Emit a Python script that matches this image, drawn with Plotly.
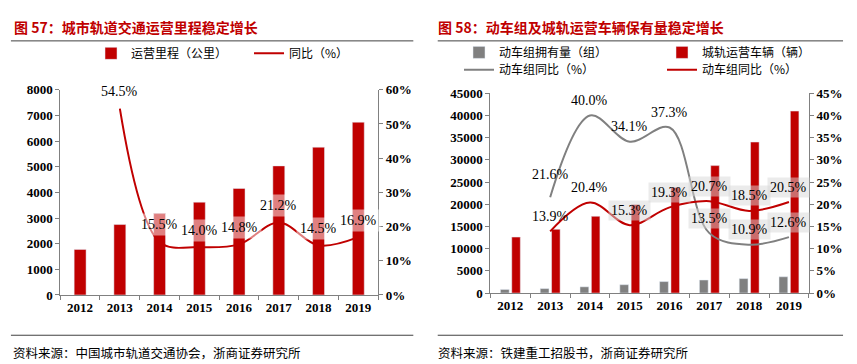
import plotly.graph_objects as go

# ---------------- data ----------------
years = ["2012", "2013", "2014", "2015", "2016", "2017", "2018", "2019"]

# chart 57
mileage_km = [1777, 2746, 3173, 3618, 4152, 5033, 5761, 6736]
mileage_yoy_years = ["2013", "2014", "2015", "2016", "2017", "2018", "2019"]
mileage_yoy = [54.5, 15.5, 14.0, 14.8, 21.2, 14.5, 16.9]

# chart 58
emu_sets = [825, 1003, 1404, 1883, 2586, 2935, 3256, 3665]
metro_cars = [12611, 14364, 17294, 19940, 23788, 28712, 34023, 40998]
yoy_years = ["2013", "2014", "2015", "2016", "2017", "2018", "2019"]
emu_yoy = [21.6, 40.0, 34.1, 37.3, 13.5, 10.9, 12.6]
metro_yoy = [13.9, 20.4, 15.3, 19.3, 20.7, 18.5, 20.5]

title57 = "图 57：城市轨道交通运营里程稳定增长"
title58 = "图 58：动车组及城轨运营车辆保有量稳定增长"
source57 = "资料来源：中国城市轨道交通协会，浙商证券研究所"
source58 = "资料来源：铁建重工招股书，浙商证券研究所"

# ---------------- style ----------------
RED = "#C00000"
GRAY = "#808080"
AXC = "#808080"
W, H = 857, 364
CJK = "Noto Sans CJK SC"
NUM = "Liberation Serif"


def px_x(v):
    return v / W


def px_y(v):
    return 1 - v / H


def cat(yr):
    return years.index(yr)


fig = go.Figure()

# chart 57 traces
fig.add_trace(go.Bar(x=years, y=mileage_km, name="运营里程（公里）", marker_color=RED,
                     width=0.3, xaxis="x", yaxis="y", legend="legend"))
fig.add_trace(go.Scatter(x=mileage_yoy_years, y=mileage_yoy, name="同比（%）", mode="lines",
                         line=dict(color=RED, width=2, shape="spline", smoothing=1.0),
                         xaxis="x", yaxis="y2", legend="legend"))

# chart 58 traces
fig.add_trace(go.Bar(x=years, y=emu_sets, name="动车组拥有量（组）", marker_color=GRAY,
                     offset=-0.25, width=0.22, xaxis="x2", yaxis="y3", legend="legend2"))
fig.add_trace(go.Bar(x=years, y=metro_cars, name="城轨运营车辆（辆）", marker_color=RED,
                     offset=0.035, width=0.215, xaxis="x2", yaxis="y3", legend="legend2"))
fig.add_trace(go.Scatter(x=yoy_years, y=emu_yoy, name="动车组同比（%）", mode="lines",
                         line=dict(color=GRAY, width=2, shape="spline", smoothing=1.0),
                         xaxis="x2", yaxis="y4", legend="legend3"))
fig.add_trace(go.Scatter(x=yoy_years, y=metro_yoy, name="动车组同比（%）", mode="lines",
                         line=dict(color=RED, width=2, shape="spline", smoothing=1.0),
                         xaxis="x2", yaxis="y4", legend="legend3"))

tickf = dict(family=NUM, size=13, color="#000000", weight="bold")
lblf = dict(family=NUM, size=14, color="#000000")

xcommon = dict(type="category", range=[-0.5, 7.5], showline=True, linecolor=AXC, linewidth=1,
               ticks="outside", tickson="boundaries", ticklen=4, tickcolor=AXC, tickfont=tickf,
               showgrid=False, zeroline=False, tickangle=0)
ycommon = dict(showline=True, linecolor=AXC, linewidth=1, ticks="outside", ticklen=4,
               tickcolor=AXC, tickfont=tickf, showgrid=False, zeroline=False, tickformat="d")

annotations = []
# data labels chart 57
for yr, v in zip(mileage_yoy_years, mileage_yoy):
    annotations.append(dict(x=cat(yr), y=v, xref="x", yref="y2", text=f"{v:.1f}%",
                            showarrow=False, yshift=17, font=lblf,
                            bgcolor="rgba(255,255,255,0.5)", borderpad=3))
# data labels chart 58
emu_box = [False, False, False, False, True, True, True]
metro_box = [False, False, True, True, True, True, True]
emu_shift = [23, 15, 15, 15, 15, 15, 15]
for yr, v, b, s in zip(yoy_years, emu_yoy, emu_box, emu_shift):
    annotations.append(dict(x=cat(yr), y=v, xref="x2", yref="y4", text=f"{v:.1f}%",
                            showarrow=False, yshift=s, font=lblf,
                            bgcolor="rgba(215,215,215,0.5)" if b else "rgba(0,0,0,0)",
                            borderpad=2))
for yr, v, b in zip(yoy_years, metro_yoy, metro_box):
    annotations.append(dict(x=cat(yr), y=v, xref="x2", yref="y4", text=f"{v:.1f}%",
                            showarrow=False, yshift=15, font=lblf,
                            bgcolor="rgba(215,215,215,0.5)" if b else "rgba(0,0,0,0)",
                            borderpad=2))

# titles and sources
titlef = dict(family=CJK, size=14, color=RED, weight="bold")
srcf = dict(family=CJK, size=12.5, color="#000000")
annotations += [
    dict(x=px_x(4), y=px_y(13), xref="paper", yref="paper", text=title57, showarrow=False,
         xanchor="left", yanchor="middle", font=titlef),
    dict(x=px_x(438), y=px_y(13), xref="paper", yref="paper", text=title58, showarrow=False,
         xanchor="left", yanchor="middle", font=titlef),
    dict(x=px_x(3), y=px_y(352), xref="paper", yref="paper", text=source57, showarrow=False,
         xanchor="left", yanchor="middle", font=srcf),
    dict(x=px_x(438), y=px_y(352), xref="paper", yref="paper", text=source58, showarrow=False,
         xanchor="left", yanchor="middle", font=srcf),
]

shapes = []
for (x0, x1) in [(3, 415), (440, 855)]:
    for yy in (27, 334):
        shapes.append(dict(type="line", xref="paper", yref="paper", x0=px_x(x0), x1=px_x(x1),
                           y0=px_y(yy), y1=px_y(yy), line=dict(color="#404040", width=1)))

legf = dict(family=CJK, size=12, color="#000000")

fig.update_layout(
    width=W, height=H, autosize=False, margin=dict(l=0, r=0, t=0, b=0, pad=0),
    paper_bgcolor="white", plot_bgcolor="rgba(0,0,0,0)",
    barmode="overlay", showlegend=True,
    xaxis=dict(domain=[px_x(53.5), px_x(379)], anchor="y", **xcommon),
    yaxis=dict(domain=[px_y(292), px_y(78)], anchor="x", range=[0, 8000], dtick=1000, **ycommon),
    yaxis2=dict(overlaying="y", side="right", anchor="x", range=[0, 60], dtick=10,
                ticksuffix="%", **ycommon),
    xaxis2=dict(domain=[px_x(494), px_x(820)], anchor="y3", **xcommon),
    yaxis3=dict(domain=[px_y(290), px_y(81.7)], anchor="x2", range=[0, 45000], dtick=5000,
                **ycommon),
    yaxis4=dict(overlaying="y3", side="right", anchor="x2", range=[0, 45], dtick=5,
                ticksuffix="%", **ycommon),
    legend=dict(orientation="h", x=px_x(85), y=px_y(40), xanchor="left", yanchor="middle",
                font=legf, bgcolor="rgba(0,0,0,0)", entrywidth=113, entrywidthmode="pixels",
                itemwidth=30, tracegroupgap=0),
    legend2=dict(orientation="h", x=px_x(462), y=px_y(39), xanchor="left", yanchor="middle",
                 font=legf, bgcolor="rgba(0,0,0,0)", entrywidth=158, entrywidthmode="pixels",
                 itemwidth=30),
    legend3=dict(orientation="h", x=px_x(462), y=px_y(57), xanchor="left", yanchor="middle",
                 font=legf, bgcolor="rgba(0,0,0,0)", entrywidth=158, entrywidthmode="pixels",
                 itemwidth=30),
    annotations=annotations, shapes=shapes,
)

fig.write_html("out.html")
